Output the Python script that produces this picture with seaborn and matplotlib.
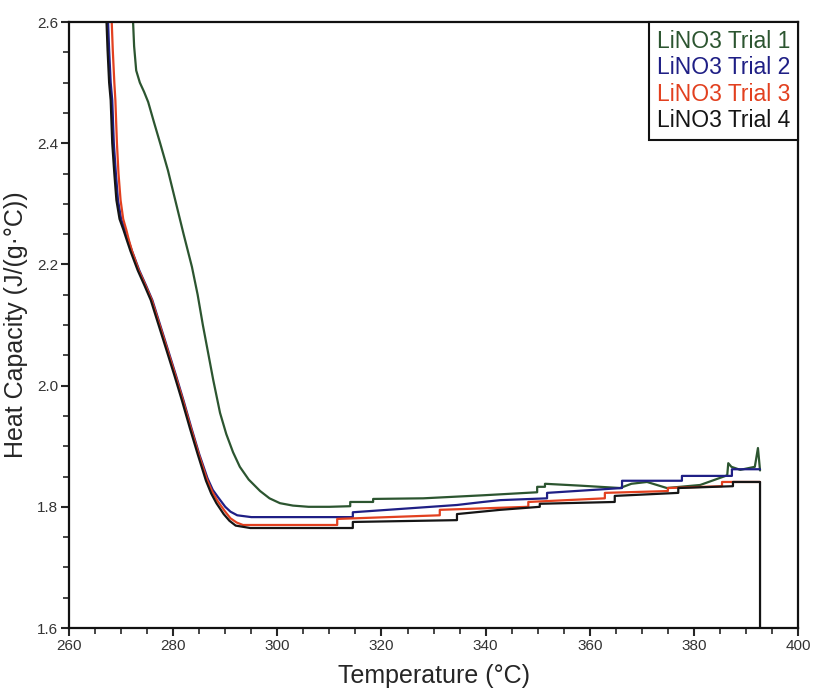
import pandas as pd
import numpy as np
import matplotlib
matplotlib.use("Agg")
import matplotlib.pyplot as plt
import seaborn as sns
from matplotlib.ticker import MultipleLocator

### values (temperature in C, heat capacity in J/(g C))
t1_temp = [272.3, 272.5, 272.9, 273.6, 274.4, 275.2, 276.3, 277.5, 279.0, 280.4, 282.0,
           283.6, 284.7, 285.7, 286.8, 287.7, 289.0, 290.2, 291.5, 292.8, 294.5, 296.7,
           298.5, 300.5, 303.0, 306.0, 310.0, 314.0, 314.0, 318.4, 318.4, 328.0, 339.5,
           349.9, 349.9, 351.4, 351.4, 358.0, 365.8, 368.0, 371.0, 374.8, 381.2, 386.4,
           386.6, 387.2, 388.9, 391.7, 392.3, 392.7]
t1_cp = [2.60, 2.56, 2.52, 2.50, 2.485, 2.468, 2.435, 2.40, 2.355, 2.306, 2.25,
         2.196, 2.15, 2.10, 2.05, 2.009, 1.955, 1.92, 1.89, 1.866, 1.845, 1.826,
         1.814, 1.806, 1.802, 1.800, 1.800, 1.801, 1.808, 1.808, 1.813, 1.814, 1.819,
         1.824, 1.833, 1.833, 1.838, 1.835, 1.831, 1.838, 1.841, 1.831, 1.836, 1.852,
         1.872, 1.866, 1.861, 1.866, 1.897, 1.860]

t2_temp = [267.5, 267.7, 268.0, 268.3, 268.6, 269.0, 269.4, 270.0, 270.75, 271.4, 272.1,
           273.5, 274.8, 276.0, 277.5, 279.0, 280.6, 282.0, 283.5, 285.0, 286.6, 287.6,
           288.6, 290.0, 291.0, 292.3, 295.0, 314.5, 314.5, 334.5, 339.5, 342.8, 351.8,
           351.8, 366.2, 366.2, 377.7, 377.7, 387.3, 387.3, 392.7]
t2_cp = [2.60, 2.554, 2.50, 2.471, 2.40, 2.35, 2.306, 2.275, 2.257, 2.24, 2.222,
         2.19, 2.165, 2.141, 2.10, 2.059, 2.015, 1.975, 1.930, 1.887, 1.847, 1.828,
         1.816, 1.800, 1.792, 1.786, 1.783, 1.783, 1.791, 1.803, 1.808, 1.811, 1.814,
         1.823, 1.831, 1.843, 1.843, 1.851, 1.851, 1.862, 1.862]

t3_temp = [268.2, 268.4, 268.7, 268.9, 269.2, 269.5, 269.9, 270.4, 271.0, 271.5, 272.1,
           273.4, 274.7, 275.9, 277.4, 278.9, 280.5, 281.9, 283.4, 284.9, 286.5, 287.5,
           288.5, 289.9, 291.0, 292.2, 293.4, 311.5, 311.5, 331.2, 331.2, 348.2, 348.2,
           362.9, 362.9, 375.0, 375.0, 385.4, 385.4, 392.7]
t3_cp = [2.60, 2.554, 2.50, 2.471, 2.40, 2.35, 2.306, 2.275, 2.257, 2.24, 2.222,
         2.19, 2.165, 2.141, 2.10, 2.059, 2.015, 1.975, 1.930, 1.887, 1.845, 1.825,
         1.810, 1.793, 1.781, 1.774, 1.770, 1.770, 1.780, 1.786, 1.795, 1.800, 1.808,
         1.814, 1.823, 1.826, 1.831, 1.834, 1.841, 1.841]

t4_temp = [267.2, 267.4, 267.7, 268.0, 268.3, 268.7, 269.1, 269.7, 270.45, 271.1, 271.8,
           273.2, 274.5, 275.7, 277.2, 278.7, 280.3, 281.7, 283.2, 284.7, 286.3, 287.3,
           288.3, 289.7, 290.8, 292.0, 294.8, 314.5, 314.5, 334.5, 334.5, 342.8, 350.4,
           350.4, 364.8, 364.8, 377.0, 377.0, 387.5, 387.5, 392.7, 392.7]
t4_cp = [2.60, 2.554, 2.50, 2.471, 2.40, 2.35, 2.306, 2.275, 2.257, 2.24, 2.222,
         2.19, 2.165, 2.141, 2.10, 2.059, 2.015, 1.975, 1.930, 1.887, 1.843, 1.822,
         1.806, 1.788, 1.777, 1.769, 1.765, 1.765, 1.775, 1.778, 1.788, 1.795, 1.800,
         1.805, 1.808, 1.818, 1.823, 1.831, 1.834, 1.841, 1.841, 1.600]

labels = ["LiNO3 Trial 1", "LiNO3 Trial 2", "LiNO3 Trial 3", "LiNO3 Trial 4"]
colors = ["#2c5530", "#1f1f85", "#e2401f", "#151515"]

frames = []
for lab, t, cp in zip(labels, [t1_temp, t2_temp, t3_temp, t4_temp], [t1_cp, t2_cp, t3_cp, t4_cp]):
    frames.append(pd.DataFrame({"temp": t, "cp": cp, "trial": lab}))
df = pd.concat(frames, ignore_index=True)

sns.set_style("ticks")
plt.rcParams["font.family"] = ["Liberation Sans", "DejaVu Sans"]

fig = plt.figure(figsize=(8.14, 6.88), dpi=100)
ax = fig.add_axes([0.0848, 0.0872, 0.8956, 0.8808])

for lab, col in zip(labels, colors):
    sub = df[df["trial"] == lab]
    sns.lineplot(data=sub, x="temp", y="cp", ax=ax, color=col, linewidth=1.6,
                 sort=False, estimator=None, label=lab)

ax.set_xlim(260, 400)
ax.set_ylim(1.6, 2.6)
ax.xaxis.set_major_locator(MultipleLocator(20))
ax.xaxis.set_minor_locator(MultipleLocator(5))
ax.yaxis.set_major_locator(MultipleLocator(0.2))
ax.yaxis.set_minor_locator(MultipleLocator(0.05))
ax.yaxis.set_major_formatter(matplotlib.ticker.FormatStrFormatter("%.1f"))
ax.tick_params(which="major", direction="out", length=6, width=1.5, labelsize=11,
               labelcolor="#333333", pad=2)
ax.tick_params(which="minor", direction="out", length=4, width=1.2)
for s in ax.spines.values():
    s.set_linewidth(1.6)
    s.set_color("#111111")

ax.set_xlabel("Temperature (°C)", fontsize=18, labelpad=8)
ax.set_ylabel("Heat Capacity (J/(g·°C))", fontsize=18, labelpad=6)

leg = ax.legend(loc="upper right", handlelength=0, handletextpad=0, labelcolor="linecolor",
                fancybox=False, framealpha=1, edgecolor="#111111", borderaxespad=0,
                fontsize=16.5, borderpad=0.35, labelspacing=0.15)
leg.get_frame().set_linewidth(1.5)
for h in leg.legend_handles:
    h.set_visible(False)

fig.savefig("out.png", dpi=100)
